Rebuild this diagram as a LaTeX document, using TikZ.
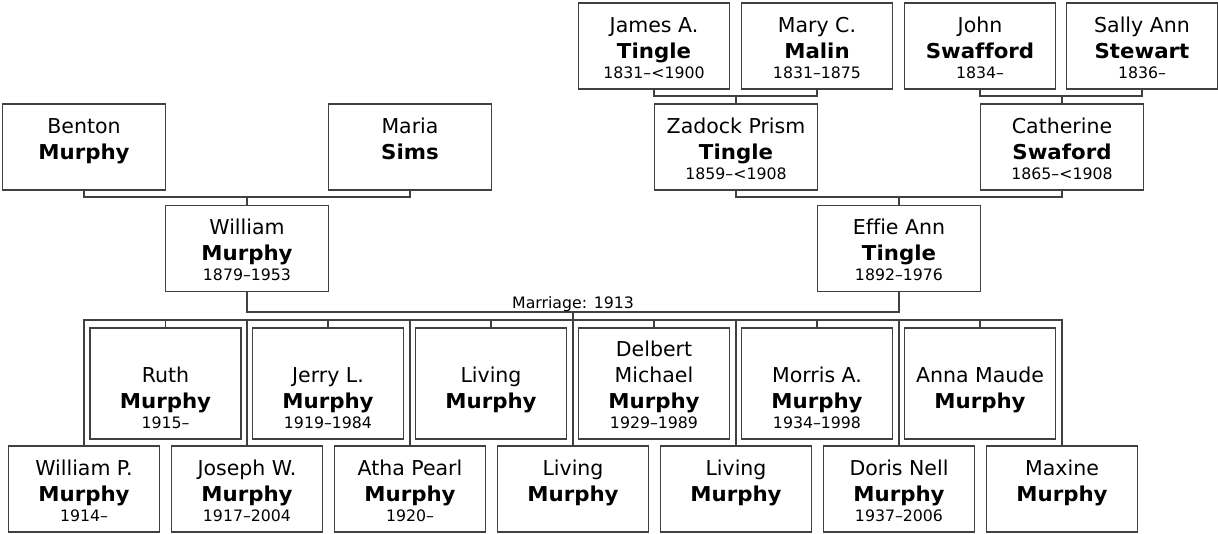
\documentclass[tikz,border=0pt]{standalone}
\usepackage{fontspec}
\setmainfont[Ligatures={TeX,NoCommon},BoldFeatures={FakeStretch=1.04}]{DejaVu Sans}
\usetikzlibrary{positioning}

\definecolor{linegray}{HTML}{404040}

\newcommand{\namefont}{\fontsize{20.5}{26}\selectfont}
\newcommand{\yearfont}{\fontsize{15.75}{20}\selectfont}
\newcommand{\person}[3]{%
  \vbox{\hsize=150pt\parindent=0pt\parskip=0pt\centering
    {\namefont #1\par}%
    {\namefont\bfseries #2\par}%
    {\yearfont\mbox{}#3\par}}}

\tikzset{
  pbox/.style={
    draw=linegray,
    line width=1.4pt,
    inner sep=0pt,
    minimum width=151pt,
    text height=75pt,
    text depth=11pt
  },
  pwide/.style={
    pbox,
    minimum width=163pt
  },
  ptall/.style={
    pbox,
    text height=100pt
  },
  conn/.style={
    draw=linegray,
    line width=1.4pt
  }
}

\begin{document}
\begin{tikzpicture}[x=1pt,y=-1pt]

    \useasboundingbox (0,0) rectangle (1218,533);

    % 曽祖父母
    \node[pbox] (james) at (654,46) {\person{James A.}{Tingle}{1831--<1900}};
    \node[pbox] (mary)  at (817,46) {\person{Mary C.}{Malin}{1831--1875}};
    \node[pbox] (john)  at (980,46) {\person{John}{Swafford}{1834--}};
    \node[pbox] (sally) at (1142,46) {\person{Sally Ann}{Stewart}{1836--}};

    % 祖父母
    \node[pwide] (benton)    at (84,147)   {\person{Benton}{Murphy}{}};
    \node[pwide] (maria)     at (410,147)  {\person{Maria}{Sims}{}};
    \node[pwide] (zadock)    at (736,147)  {\person{Zadock Prism}{Tingle}{1859--<1908}};
    \node[pwide] (catherine) at (1062,147) {\person{Catherine}{Swaford}{1865--<1908}};

    % 両親
    \node[pwide] (william) at (247,248.5) {\person{William}{Murphy}{1879--1953}};
    \node[pwide] (effie)   at (899,248.5) {\person{Effie Ann}{Tingle}{1892--1976}};

    % 子供（上の段）
    \node[ptall] (ruth)    at (165.5,383.5) {\person{Ruth}{Murphy}{1915--}};
    \node[ptall] (jerry)   at (328,383.5)   {\person{Jerry L.}{Murphy}{1919--1984}};
    \node[ptall] (livingb) at (491,383.5)   {\person{Living}{Murphy}{}};
    \node[ptall] (delbert) at (654,383.5)   {\person{Delbert\\Michael}{Murphy}{1929--1989}};
    \node[ptall] (morris)  at (817,383.5)   {\person{Morris A.}{Murphy}{1934--1998}};
    \node[ptall] (anna)    at (980,383.5)   {\person{Anna Maude}{Murphy}{}};

    % 子供（下の段）
    \node[pbox] (williamp) at (84,489)   {\person{William P.}{Murphy}{1914--}};
    \node[pbox] (joseph)   at (247,489)  {\person{Joseph W.}{Murphy}{1917--2004}};
    \node[pbox] (atha)     at (410,489)  {\person{Atha Pearl}{Murphy}{1920--}};
    \node[pbox] (livinga)  at (573,489)  {\person{Living}{Murphy}{}};
    \node[pbox] (livingc)  at (736,489)  {\person{Living}{Murphy}{}};
    \node[pbox] (doris)    at (899,489)  {\person{Doris Nell}{Murphy}{1937--2006}};
    \node[pbox] (maxine)   at (1062,489) {\person{Maxine}{Murphy}{}};

    % 曽祖父母 → 祖父母
    \coordinate (jm) at (736,96);
    \draw[conn] (james.south) |- (jm) -| (mary.south);
    \draw[conn] (jm) -- (zadock.north);
    \coordinate (js) at (1062,96);
    \draw[conn] (john.south) |- (js) -| (sally.south);
    \draw[conn] (js) -- (catherine.north);

    % 祖父母 → 両親
    \coordinate (bm) at (247,197);
    \draw[conn] (benton.south) |- (bm) -| (maria.south);
    \draw[conn] (bm) -- (william.north);
    \coordinate (zc) at (899,197);
    \draw[conn] (zadock.south) |- (zc) -| (catherine.south);
    \draw[conn] (zc) -- (effie.north);

    % 結婚
    \coordinate (we) at (573,312);
    \draw[conn] (william.south) |- (we) -| (effie.south);
    \node[anchor=base,inner sep=0pt,font=\yearfont] (marriage) at (573,308) {Marriage: 1913};

    % 子供への線
    \coordinate (kids) at (573,320);
    \draw[conn] (we) -- (kids);
    \draw[conn] (williamp.north) |- (kids) -| (maxine.north);
    \draw[conn] (joseph.north)  -- (joseph.north |- kids);
    \draw[conn] (atha.north)    -- (atha.north |- kids);
    \draw[conn] (livinga.north) -- (livinga.north |- kids);
    \draw[conn] (livingc.north) -- (livingc.north |- kids);
    \draw[conn] (doris.north)   -- (doris.north |- kids);
    \draw[conn] (ruth.north)    -- (ruth.north |- kids);
    \draw[conn] (jerry.north)   -- (jerry.north |- kids);
    \draw[conn] (livingb.north) -- (livingb.north |- kids);
    \draw[conn] (delbert.north) -- (delbert.north |- kids);
    \draw[conn] (morris.north)  -- (morris.north |- kids);
    \draw[conn] (anna.north)    -- (anna.north |- kids);

\end{tikzpicture}
\end{document}
